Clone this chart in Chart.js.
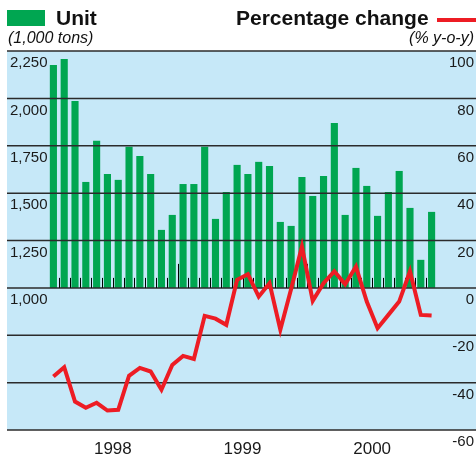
<!DOCTYPE html>
<html>
<head>
<meta charset="utf-8">
<script src="https://cdn.jsdelivr.net/npm/chart.js@4.4.1/dist/chart.umd.min.js"></script>
<style>
  body { margin: 0; background: #fff; font-family: "Liberation Sans", Arial, sans-serif; }
  #wrap { position: relative; width: 476px; height: 458px; }
  #chart { position: absolute; left: 0; top: 0; }
  .t { position: absolute; white-space: nowrap; color: #111; }
  .title { font-size: 21px; font-weight: bold; line-height: 21px; top: 7px; }
  .unit { font-size: 16px; font-style: italic; line-height: 16px; top: 30px; }
  .swatch { position: absolute; }
</style>
</head>
<body>
<div id="wrap">
  <canvas id="chart" width="476" height="458"></canvas>
  <div class="swatch" style="left:7px;top:10px;width:38px;height:16px;background:#00a651"></div>
  <div class="t title" style="left:56px">Unit</div>
  <div class="t unit" style="left:8px">(1,000 tons)</div>
  <div class="t title" style="left:236px">Percentage change</div>
  <div class="swatch" style="left:437px;top:18px;width:39px;height:4px;background:#ed1c24"></div>
  <div class="t unit" style="right:2px">(% y-o-y)</div>
</div>
<script>
// ─── Data ────────────────────────────────────────────────────────────────
const months = [
  'Jan 98','Feb 98','Mar 98','Apr 98','May 98','Jun 98','Jul 98','Aug 98','Sep 98','Oct 98','Nov 98','Dec 98',
  'Jan 99','Feb 99','Mar 99','Apr 99','May 99','Jun 99','Jul 99','Aug 99','Sep 99','Oct 99','Nov 99','Dec 99',
  'Jan 00','Feb 00','Mar 00','Apr 00','May 00','Jun 00','Jul 00','Aug 00','Sep 00','Oct 00','Nov 00','Dec 00',
];
const years = ['1998', '1999', '2000'];

// units, 1,000 tons
const unitValues = [
  2176, 2208, 1986, 1559, 1777, 1601, 1570, 1745, 1696, 1601, 1306, 1385,
  1548, 1548, 1745, 1364, 1506, 1649, 1601, 1665, 1643, 1348, 1327, 1585,
  1485, 1591, 1870, 1385, 1633, 1538, 1380, 1506, 1617, 1422, 1148, 1401,
];

// % y-o-y
const pctChange = [
  -37.4, -33.5, -48, -50.6, -48.5, -51.8, -51.5, -37.1, -33.8, -35.3, -43, -32.5,
  -28.7, -30, -11.8, -13, -15.6, 3.4, 5.8, -3.7, 2, -17.7, -0.5, 17.4,
  -5.5, 2, 7, 1.5, 9, -5.8, -17, -11.4, -5.8, 7, -11.4, -11.7,
];

const FONT = '"Liberation Sans", Arial, sans-serif';
Chart.defaults.font.family = FONT;

// blue panel, grid lines over the bars, month ticks on the 1,000 line
const panelPlugin = {
  id: 'panel',
  beforeDraw(chart) {
    const { ctx, chartArea } = chart;
    ctx.save();
    ctx.fillStyle = '#c6e8f8';
    ctx.fillRect(7, chartArea.top, chart.width - 7, chartArea.bottom - chartArea.top);
    ctx.restore();
  },
  afterDatasetDraw(chart, args) {
    if (args.index !== 0) return;
    const { ctx } = chart;
    const x = chart.scales.x, yL = chart.scales.yL, yR = chart.scales.yR;
    ctx.save();
    ctx.strokeStyle = '#2b2b2b';
    ctx.lineWidth = 1.5;
    yR.ticks.forEach(t => {
      const py = yR.getPixelForValue(t.value);
      ctx.beginPath(); ctx.moveTo(7, py); ctx.lineTo(chart.width, py); ctx.stroke();
    });
    const base = yL.getPixelForValue(1000);
    ctx.strokeStyle = '#000';
    ctx.lineWidth = 1;
    for (let i = 0; i < months.length - 1; i++) {
      const px = Math.round((x.getPixelForValue(i) + x.getPixelForValue(i + 1)) / 2) + 0.5;
      const h = (i + 1) % 12 === 0 ? 24 : 10;
      ctx.beginPath(); ctx.moveTo(px, base); ctx.lineTo(px, base - h); ctx.stroke();
    }
    ctx.restore();
  },
};

new Chart(document.getElementById('chart'), {
  type: 'bar',
  data: {
    labels: months,
    datasets: [
      {
        type: 'bar', label: 'Unit', data: unitValues, yAxisID: 'yL', base: 1000,
        backgroundColor: '#00a651', borderWidth: 0,
        categoryPercentage: 1, barPercentage: 0.66, order: 2,
      },
      {
        type: 'line', label: 'Percentage change', data: pctChange, yAxisID: 'yR',
        borderColor: '#ed1c24', borderWidth: 4, pointRadius: 0, tension: 0, fill: false, order: 1,
      },
    ],
  },
  options: {
    responsive: false,
    animation: false,
    devicePixelRatio: 1,
    layout: { padding: { top: 51, left: 10, right: 2, bottom: 0 } },
    plugins: { legend: { display: false }, tooltip: { enabled: false } },
    scales: {
      x: {
        grid: { display: false, drawTicks: false },
        border: { display: false },
        ticks: {
          autoSkip: false, maxRotation: 0, padding: 9, labelOffset: 5.4,
          color: '#1a1a1a', font: { size: 17 },
          callback: (v, i) => (i % 12 === 5 ? years[Math.floor(i / 12)] : ''),
        },
        afterFit: s => { s.height = 28; },
      },
      yL: {
        position: 'left', min: 250, max: 2250,
        grid: { display: false, drawTicks: false },
        border: { display: false },
        ticks: {
          stepSize: 250, autoSkip: false, crossAlign: 'far', labelOffset: 12,
          color: '#1a1a1a', font: { size: 15 },
          callback: v => (v >= 1000 ? v.toLocaleString('en-US') : ''),
        },
        afterFit: s => { s.width = 38; },
      },
      yR: {
        position: 'right', min: -60, max: 100,
        grid: { display: false, drawTicks: false },
        border: { display: false },
        ticks: {
          stepSize: 20, autoSkip: false, crossAlign: 'far', labelOffset: 12,
          color: '#1a1a1a', font: { size: 15 },
        },
        afterFit: s => { s.width = 37; },
      },
    },
  },
  plugins: [panelPlugin],
});
</script>
</body>
</html>
